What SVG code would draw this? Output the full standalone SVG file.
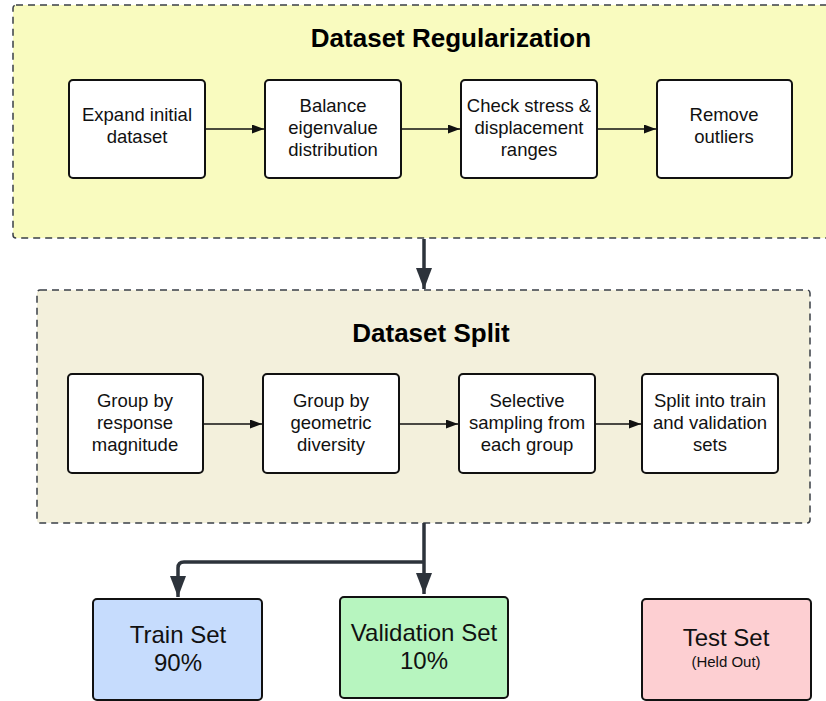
<svg xmlns="http://www.w3.org/2000/svg" width="826" height="701" viewBox="0 0 826 701">
  <defs>
    <marker id="arrowSmall" markerWidth="12" markerHeight="9" refX="12" refY="4.5" orient="auto" markerUnits="userSpaceOnUse">
      <path d="M0,0 L12,4.5 L0,9 Z" fill="#111"/>
    </marker>
    <marker id="arrowBig" markerWidth="21" markerHeight="16" refX="21" refY="8" orient="auto" markerUnits="userSpaceOnUse" viewBox="0 0 21 16">
      <path d="M0,0 L21,8 L0,16 Z" fill="#2d333b"/>
    </marker>
  </defs>
  <style>
    .container { stroke: #3a3f47; stroke-width: 1.5; stroke-dasharray: 7 5; }
    .step { fill: #ffffff; stroke: #111; stroke-width: 2; }
    .label { font-family: "Liberation Sans", Arial, sans-serif; font-size: 18.5px; fill: #111; text-anchor: middle; }
    .title { font-family: "Liberation Sans", Arial, sans-serif; font-size: 26px; font-weight: bold; fill: #000; text-anchor: middle; }
    .out { stroke: #111; stroke-width: 2; }
    .outLabel { font-family: "Liberation Sans", Arial, sans-serif; font-size: 24px; fill: #111; text-anchor: middle; }
    .small { font-family: "Liberation Sans", Arial, sans-serif; font-size: 15px; fill: #111; text-anchor: middle; }
    .flow { stroke: #111; stroke-width: 1.5; fill: none; }
    .main { stroke: #2d333b; stroke-width: 3.5; fill: none; }
  </style>

  <!-- Regularization stage -->
  <g id="regularization">
    <rect class="container" x="13" y="5" width="830" height="233" rx="3" fill="#f9fbbf"/>
    <text class="title" x="451" y="47">Dataset Regularization</text>
  </g>
  <g id="expand">
    <rect class="step" x="69" y="80" width="136" height="98" rx="4"/>
    <text class="label" x="137" y="121">Expand initial</text>
    <text class="label" x="137" y="143">dataset</text>
  </g>
  <g id="balance">
    <rect class="step" x="265" y="80" width="136" height="98" rx="4"/>
    <text class="label" x="333" y="112">Balance</text>
    <text class="label" x="333" y="134">eigenvalue</text>
    <text class="label" x="333" y="156">distribution</text>
  </g>
  <g id="check">
    <rect class="step" x="461" y="80" width="136" height="98" rx="4"/>
    <text class="label" x="529" y="112">Check stress &amp;</text>
    <text class="label" x="529" y="134">displacement</text>
    <text class="label" x="529" y="156">ranges</text>
  </g>
  <g id="remove">
    <rect class="step" x="657" y="80" width="135" height="98" rx="4"/>
    <text class="label" x="724" y="121">Remove</text>
    <text class="label" x="724" y="143">outliers</text>
  </g>

  <!-- Split stage -->
  <g id="split">
    <rect class="container" x="37" y="290" width="773" height="233" rx="3" fill="#f3f0dc"/>
    <text class="title" x="431" y="342">Dataset Split</text>
  </g>
  <g id="groupResponse">
    <rect class="step" x="68" y="374" width="135" height="99" rx="4"/>
    <text class="label" x="135" y="407">Group by</text>
    <text class="label" x="135" y="429">response</text>
    <text class="label" x="135" y="451">magnitude</text>
  </g>
  <g id="groupGeometry">
    <rect class="step" x="263" y="374" width="136" height="99" rx="4"/>
    <text class="label" x="331" y="407">Group by</text>
    <text class="label" x="331" y="429">geometric</text>
    <text class="label" x="331" y="451">diversity</text>
  </g>
  <g id="sampling">
    <rect class="step" x="459" y="374" width="136" height="99" rx="4"/>
    <text class="label" x="527" y="407">Selective</text>
    <text class="label" x="527" y="429">sampling from</text>
    <text class="label" x="527" y="451">each group</text>
  </g>
  <g id="splitSets">
    <rect class="step" x="642" y="374" width="136" height="99" rx="4"/>
    <text class="label" x="710" y="407">Split into train</text>
    <text class="label" x="710" y="429">and validation</text>
    <text class="label" x="710" y="451">sets</text>
  </g>

  <!-- Outputs -->
  <g id="train">
    <rect class="out" x="93" y="599" width="169" height="101" rx="4" fill="#c6dcfd"/>
    <text class="outLabel" x="178" y="643">Train Set</text>
    <text class="outLabel" x="178" y="671">90%</text>
  </g>
  <g id="validation">
    <rect class="out" x="340" y="597" width="168" height="101" rx="4" fill="#b7f5bf"/>
    <text class="outLabel" x="424" y="641">Validation Set</text>
    <text class="outLabel" x="424" y="669">10%</text>
  </g>
  <g id="test">
    <rect class="out" x="642" y="599" width="169" height="101" rx="4" fill="#fdcfd2"/>
    <text class="outLabel" x="726" y="646">Test Set</text>
    <text class="small" x="726" y="667">(Held Out)</text>
  </g>

  <!-- Connectors -->
  <g id="connectors">
    <line class="flow" x1="205" y1="129" x2="264" y2="129" marker-end="url(#arrowSmall)"/>
    <line class="flow" x1="401" y1="129" x2="460" y2="129" marker-end="url(#arrowSmall)"/>
    <line class="flow" x1="597" y1="129" x2="656" y2="129" marker-end="url(#arrowSmall)"/>
    <line class="flow" x1="203" y1="424" x2="262" y2="424" marker-end="url(#arrowSmall)"/>
    <line class="flow" x1="399" y1="424" x2="458" y2="424" marker-end="url(#arrowSmall)"/>
    <line class="flow" x1="595" y1="424" x2="641" y2="424" stroke="#3a3f47" marker-end="url(#arrowSmall)"/>
    <path class="main" d="M424,239 V289" marker-end="url(#arrowBig)"/>
    <path class="main" d="M424,523 V594" marker-end="url(#arrowBig)"/>
    <path class="main" d="M424,562 H184 Q178,562 178,568 V597" marker-end="url(#arrowBig)"/>
  </g>
</svg>
